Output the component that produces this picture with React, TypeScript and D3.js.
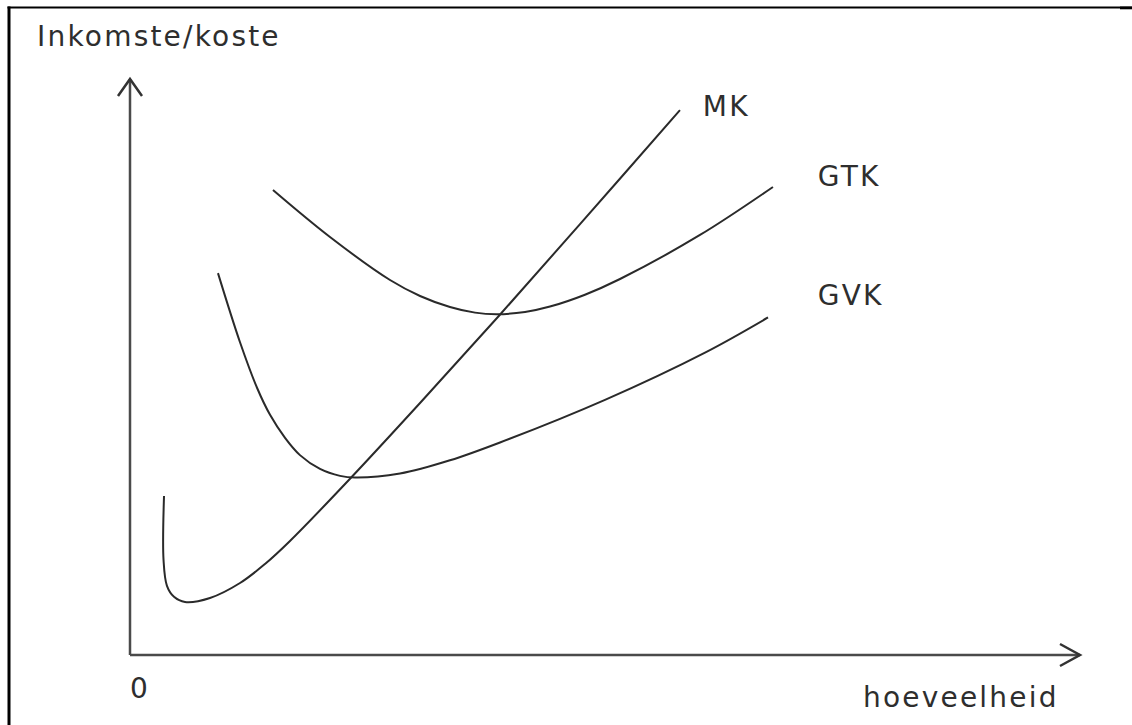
import { useEffect, useRef } from 'react';
import * as d3 from 'd3';

// hoeveelheid (x) vs inkomste/koste (y), both on a 0..100 scale
const mkQty = [3.58, 3.53, 3.89, 4.63, 5.79, 8.42, 11.58, 14.21, 16.84, 23.16, 30.53, 38.63, 47.37, 57.89];
const mkCost = [27.6, 16.5, 12.0, 10.1, 9.2, 9.9, 12.5, 15.8, 19.8, 30.6, 43.75, 58.5, 74.8, 94.6];

const gvkQty = [9.26, 11.58, 13.37, 14.74, 16.32, 17.89, 20.0, 22.11, 23.68, 28.42, 33.68, 38.95, 50.0, 60.53, 67.16];
const gvkCost = [66.3, 54.3, 46.4, 41.7, 37.7, 34.7, 32.3, 31.1, 30.8, 31.5, 33.8, 36.9, 44.3, 52.5, 58.6];

const gtkQty = [15.05, 21.05, 27.37, 30.53, 33.68, 36.32, 38.63, 41.58, 44.21, 47.89, 51.58, 60.0, 67.68];
const gtkCost = [80.73, 72.57, 65.1, 62.33, 60.42, 59.44, 59.17, 59.55, 60.49, 62.55, 65.28, 72.92, 81.25];

const curveNames = ['MK', 'GTK', 'GVK'];

function App() {
    const svgRef = useRef<SVGSVGElement>(null);

    useEffect(() => {
        if (!svgRef.current) return;
        const svg = d3.select(svgRef.current);
        svg.selectAll('*').remove();

        const width = 1132;
        const height = 725;

        const x = d3.scaleLinear().domain([0, 100]).range([130, 1080]);
        const y = d3.scaleLinear().domain([0, 100]).range([655, 79]);

        svg.append('rect').attr('width', width).attr('height', height).attr('fill', '#fff');

        // frame (left and top only, like the scanned figure)
        svg.append('line')
            .attr('x1', 9).attr('y1', 6.5).attr('x2', 9).attr('y2', height)
            .attr('stroke', '#000').attr('stroke-width', 3);
        svg.append('line')
            .attr('x1', 7.5).attr('y1', 7.5).attr('x2', 1120).attr('y2', 7.5)
            .attr('stroke', '#000').attr('stroke-width', 2);
        svg.append('line')
            .attr('x1', 1120).attr('y1', 7.8).attr('x2', width).attr('y2', 7.8)
            .attr('stroke', '#000').attr('stroke-width', 3);

        const axisColor = '#4a4a4a';

        // y axis + open arrow
        svg.append('line')
            .attr('x1', x(0)).attr('y1', y(0)).attr('x2', x(0)).attr('y2', y(100))
            .attr('stroke', axisColor).attr('stroke-width', 2.5);
        svg.append('path')
            .attr('d', `M${x(0) - 12},${y(100) + 17} L${x(0)},${y(100)} L${x(0) + 12},${y(100) + 17}`)
            .attr('fill', 'none').attr('stroke', '#333').attr('stroke-width', 2.5);

        // x axis + open arrow
        svg.append('line')
            .attr('x1', x(0)).attr('y1', y(0)).attr('x2', x(100)).attr('y2', y(0))
            .attr('stroke', axisColor).attr('stroke-width', 2.5);
        svg.append('path')
            .attr('d', `M${x(100) - 20},${y(0) - 11} L${x(100)},${y(0)} L${x(100) - 20},${y(0) + 11}`)
            .attr('fill', 'none').attr('stroke', '#333').attr('stroke-width', 2.5);

        const line = d3.line<[number, number]>()
            .x(d => x(d[0]))
            .y(d => y(d[1]))
            .curve(d3.curveCatmullRom.alpha(0.5));

        const series: [number, number][][] = [
            mkQty.map((q, i) => [q, mkCost[i]]),
            gtkQty.map((q, i) => [q, gtkCost[i]]),
            gvkQty.map((q, i) => [q, gvkCost[i]]),
        ];

        series.forEach(pts => {
            svg.append('path')
                .attr('d', line(pts))
                .attr('fill', 'none')
                .attr('stroke', '#2a2a2a')
                .attr('stroke-width', 2);
        });

        const font = "'DejaVu Sans', Verdana, sans-serif";
        const textStyle = (t: d3.Selection<SVGTextElement, unknown, null, undefined>) =>
            t.attr('font-family', font)
                .attr('font-size', 28)
                .attr('letter-spacing', 2.2)
                .attr('fill', '#2e2e2e');

        // curve labels
        const labelPos = [
            [x(60.3), 116],
            [x(72.4), 186],
            [x(72.4), 305],
        ];
        curveNames.forEach((name, i) => {
            svg.append('text')
                .attr('x', labelPos[i][0])
                .attr('y', labelPos[i][1])
                .call(textStyle)
                .text(name);
        });

        svg.append('text').attr('x', 37).attr('y', 46).call(textStyle).text('Inkomste/koste');
        svg.append('text').attr('x', x(0)).attr('y', 698).call(textStyle).text('0');
        svg.append('text').attr('x', 863).attr('y', 707).call(textStyle).text('hoeveelheid');
    }, []);

    return (
        <svg
            ref={svgRef}
            width={1132}
            height={725}
            style={{ position: 'absolute', left: 0, top: 0 }}
        />
    );
}

export default App;
